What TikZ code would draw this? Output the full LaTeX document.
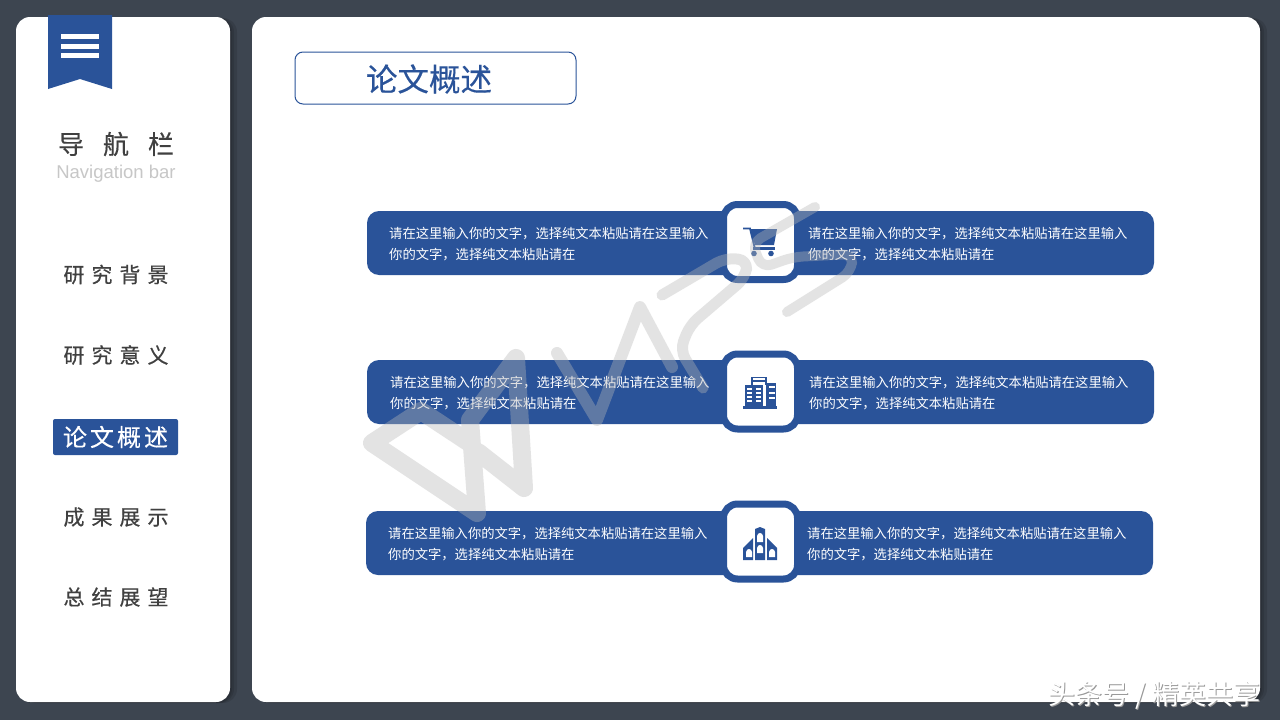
\documentclass[tikz,border=0pt]{standalone}
\usepackage{fontspec}
\usepackage{tikz}
\setmainfont{Liberation Sans}
\newfontfamily\cjk{Noto Sans CJK SC}
\newfontfamily\navcjk[FakeBold=0.5]{Noto Sans CJK SC}
\newfontfamily\headcjk[FakeBold=0.35]{Noto Sans CJK SC}
\definecolor{wpsblue}{RGB}{42,83,153}
\definecolor{slatebg}{RGB}{61,69,80}
\definecolor{darktext}{RGB}{64,64,64}
\definecolor{marklight}{RGB}{183,183,183}
\newcommand{\bartext}{请在这里输入你的文字，选择纯文本粘贴请在这里输入\\你的文字，选择纯文本粘贴请在}
\newcommand{\navspaced}[4]{#1\hspace{7pt}#2\hspace{7pt}#3\hspace{7pt}#4}
\tikzset{
	card/.style={fill=white,rounded corners=14pt},
	cardshade/.style={fill=black,opacity=0.1,rounded corners=14pt},
	barbox/.style={fill=wpsblue,rounded corners=12pt,minimum width=787pt,minimum height=64pt,inner sep=0pt},
	iconbox/.style={draw=wpsblue,line width=7pt,fill=white,rounded corners=14pt,minimum width=74pt,minimum height=75pt,inner sep=0pt},
	bartxt/.style={anchor=west,inner sep=0pt,align=left,text=white,font=\fontsize{13.3}{21}\selectfont\cjk},
	navitem/.style={inner sep=0pt,text=darktext,font=\fontsize{21}{21}\selectfont\navcjk},
	markline/.style={draw=marklight,opacity=0.38,line cap=round,line join=round},
}
\begin{document}
\begin{tikzpicture}[x=1pt,y=-1pt]
	\useasboundingbox (0,0) rectangle (1280,720);
	\fill[slatebg] (0,0) rectangle (1280,720);
	
	\foreach \s in {2,4,7}
	{
		\fill[cardshade] (16+\s,18) rectangle (230+\s,703);
		\fill[cardshade] (252+\s,18) rectangle (1260+\s,703);
	}
	\fill[card] (16,17) rectangle (230,702);
	\fill[card] (252,17) rectangle (1260,702);
	
	% bookmark
	\fill[wpsblue] (48,15) -- (112,15) -- (112,89) -- (80,79) -- (48,89) -- cycle;
	\foreach \y in {34,43.5,53}
	{
		\fill[white] (61,\y) rectangle (99,\y+5);
	}
	
	\node[inner sep=0pt,text=darktext,font=\fontsize{26}{26}\selectfont\headcjk] (navtitle) at (116,144) {导\hspace{19pt}航\hspace{19pt}栏};
	\node[inner sep=0pt,text=black!22,font=\fontsize{18.5}{18.5}\selectfont] (navsub) at (116,174) {Navigation bar};
	
	\node[navitem] (nav1) at (116,274.5) {\navspaced{研}{究}{背}{景}};
	\node[navitem] (nav2) at (116,355) {\navspaced{研}{究}{意}{义}};
	\node[fill=wpsblue,rounded corners=2pt,minimum width=125pt,minimum height=36pt,inner sep=0pt,text=white,font=\fontsize{24}{24}\selectfont\headcjk] (nav3) at (115.5,437) {论\hspace{3pt}文\hspace{3pt}概\hspace{3pt}述};
	\node[navitem] (nav4) at (116,517) {\navspaced{成}{果}{展}{示}};
	\node[navitem] (nav5) at (116,597) {\navspaced{总}{结}{展}{望}};
	
	\node[draw=wpsblue,line width=1pt,fill=white,rounded corners=8pt,minimum width=281pt,minimum height=52pt,inner sep=0pt] (title) at (435.5,78) {};
	\node[inner sep=0pt,text=wpsblue,font=\fontsize{31.5}{31.5}\selectfont\headcjk] (titletext) at (429,79) {论文概述};
	
	\foreach \n/\bx/\tx/\ym/\yb in {1/760.5/389/243/242,2/760.5/390/392/391.5,3/759.5/388/543/541.5}
	{
		\node[barbox] (bar\n) at (\bx,\ym) {};
		\node[bartxt] (left\n) at (\tx,\ym+1.5) {\bartext};
		\node[bartxt] (right\n) at (\tx+419,\ym+1.5) {\bartext};
		\node[iconbox] (icon\n) at (760.5,\yb) {};
	}
	
	% cart
	\draw[wpsblue,line width=1.8pt] (743,228.5) -- (750,228.5) -- (755,249);
	\fill[wpsblue] (750,229) -- (777,229) -- (774,245) -- (755,245) -- cycle;
	\fill[wpsblue] (753,247) rectangle (775,249.5);
	\fill[wpsblue] (754,253.5) circle (2.8);
	\fill[wpsblue] (771,253.5) circle (2.8);
	
	% building
	\fill[wpsblue] (743,406) rectangle (777,409);
	\fill[wpsblue] (745,385) rectangle (763,408);
	\fill[wpsblue] (766,383) rectangle (776,408);
	\draw[wpsblue,line width=1.2pt] (752,385) -- (752,377.5) -- (766,377.5) -- (766,385);
	\fill[wpsblue] (753,380) rectangle (765,381.5);
	\foreach \y in {388,392,396,400}
	{
		\fill[white] (747,\y) rectangle (752,\y+2.4);
		\fill[white] (756,\y) rectangle (760.5,\y+2.4);
	}
	\foreach \y in {386,391.5,397}
	{
		\fill[white] (769,\y) rectangle (775,\y+2.4);
	}
	
	% church
	\fill[wpsblue] (755,560) -- (755,529) -- (760,527) -- (765,529) -- (765,560) -- cycle;
	\fill[wpsblue] (743,560) -- (743,548) -- (753,538) -- (753,560) -- cycle;
	\fill[wpsblue] (767,560) -- (767,538) -- (777,548) -- (777,560) -- cycle;
	\foreach \x/\ya/\yc in {757/542/533,757/553/545,746/557/549,769/557/549}
	{
		\fill[white] (\x,\ya) -- (\x,\yc+3) .. controls (\x,\yc+1) and (\x+2,\yc) .. (\x+3,\yc) .. controls (\x+4,\yc) and (\x+6,\yc+1) .. (\x+6,\yc+3) -- (\x+6,\ya) -- cycle;
	}
	
	% logo over everything
	\draw[markline,line width=18pt] (372,443) -- (477,513) -- (470,420) -- (516,358) -- (524,488) -- (478,452)
		(372,443) -- (421,411) -- (468,442);
	\draw[markline,line width=12pt] (557,353) -- (597,420) -- (640,307) -- (672,367);
	\draw[markline,line width=11pt,rounded corners=10pt] (703,388) -- (680,350) -- (690,325) -- (745,278) -- (748,260) -- (725,258) -- (662,295);
	\draw[markline,line width=10pt,rounded corners=10pt] (815,207) -- (752,243) -- (762,268) -- (793,257) -- (853,254) -- (851,272) -- (787,312);
	
	% corner mark
	\node[inner sep=0pt,text=black!40,font=\fontsize{27}{27}\selectfont\cjk] (cornershade) at (1155.5,696) {头条号 / 精英共享};
	\node[inner sep=0pt,text=white,font=\fontsize{27}{27}\selectfont\cjk] (corner) at (1154.5,695) {头条号 / 精英共享};
\end{tikzpicture}
\end{document}
